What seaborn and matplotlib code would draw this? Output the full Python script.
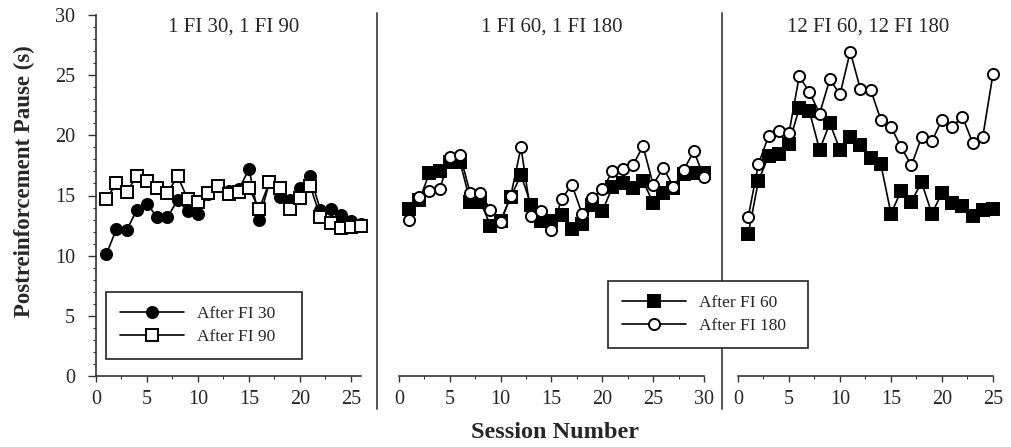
import numpy as np
import pandas as pd
import matplotlib
matplotlib.use("Agg")
import matplotlib.pyplot as plt
from matplotlib.lines import Line2D
import seaborn as sns

# ---------------- data ----------------
sessions_a = list(range(1, 27))
after_fi30 = [10.1, 12.2, 12.1, 13.8, 14.3, 13.2, 13.2, 14.6, 13.7, 13.5, 15.1, 15.8, 15.4,
              15.5, 17.2, 13.0, 16.1, 14.9, 14.6, 15.6, 16.6, 13.8, 13.9, 13.4, 12.9, 12.6]
after_fi90 = [14.7, 16.0, 15.3, 16.6, 16.2, 15.6, 15.2, 16.6, 14.7, 14.5, 15.2, 15.8, 15.1,
              15.3, 15.6, 13.9, 16.1, 15.6, 13.9, 14.8, 15.8, 13.2, 12.7, 12.3, 12.4, 12.5]

sessions_b = list(range(1, 31))
after_fi60_b = [13.9, 14.6, 16.9, 17.0, 17.8, 17.8, 14.5, 14.5, 12.5, 12.9, 14.9, 16.7, 14.2, 12.9, 12.9,
                13.4, 12.2, 12.6, 14.2, 13.7, 15.7, 16.0, 15.6, 16.2, 14.4, 15.2, 15.6, 16.8, 16.9, 16.9]
after_fi180_b = [13.0, 14.9, 15.4, 15.5, 18.2, 18.4, 15.2, 15.2, 13.8, 12.8, 15.0, 19.0, 13.3, 13.7, 12.1,
                 14.7, 15.9, 13.5, 14.8, 15.5, 17.0, 17.2, 17.5, 19.1, 15.9, 17.3, 15.7, 17.1, 18.7, 16.5]

sessions_c = list(range(1, 26))
after_fi60_c = [11.8, 16.2, 18.3, 18.45, 19.3, 22.25, 22.0, 18.8, 21.0, 18.8, 19.9, 19.2, 18.1,
                17.6, 13.5, 15.4, 14.5, 16.1, 13.5, 15.2, 14.4, 14.1, 13.3, 13.8, 13.9]
after_fi180_c = [13.2, 17.6, 19.95, 20.4, 20.2, 24.9, 23.6, 21.8, 24.65, 23.4, 26.95, 23.85, 23.8,
                 21.3, 20.7, 19.0, 17.5, 19.85, 19.5, 21.3, 20.7, 21.55, 19.4, 19.9, 25.1]

panel_titles = ["1 FI 30, 1 FI 90", "1 FI 60, 1 FI 180", "12 FI 60, 12 FI 180"]
legend_a = ["After FI 30", "After FI 90"]
legend_b = ["After FI 60", "After FI 180"]
y_label = "Postreinforcement Pause (s)"
x_label = "Session Number"

# ---------------- style ----------------
sns.set_style("ticks")
plt.rcParams['font.family'] = ['Liberation Serif', 'DejaVu Serif']
plt.rcParams['axes.edgecolor'] = '#333333'
plt.rcParams['axes.linewidth'] = 1.2

W, H = 1012, 447
fig = plt.figure(figsize=(W / 100, H / 100), dpi=100)

def px_axes(left, right, top=15, bottom=376):
    return fig.add_axes([left / W, 1 - bottom / H, (right - left) / W, (bottom - top) / H])

ax1 = px_axes(96, 96 + 26 * 10.2)
ax2 = px_axes(399, 704)
ax3 = px_axes(738, 993)

line_kw = dict(color='black', linewidth=1.2, markersize=8, markeredgewidth=1.4,
               markeredgecolor='black')

def draw(ax, x, y, marker, filled, zorder):
    df = pd.DataFrame({'session': x, 'pause': y})
    sns.lineplot(data=df, x='session', y='pause', ax=ax, marker=marker,
                 markerfacecolor='black' if filled else 'white',
                 legend=False, zorder=zorder, clip_on=False, **line_kw)

draw(ax1, sessions_a, after_fi30, 'o', True, 3)
draw(ax1, sessions_a, after_fi90, 's', False, 4)
draw(ax2, sessions_b, after_fi60_b, 's', True, 3)
draw(ax2, sessions_b, after_fi180_b, 'o', False, 4)
draw(ax3, sessions_c, after_fi60_c, 's', True, 3)
draw(ax3, sessions_c, after_fi180_c, 'o', False, 4)

for ax, xmax, title, tx in [(ax1, 26, panel_titles[0], 0.52),
                            (ax2, 30, panel_titles[1], 0.5),
                            (ax3, 25, panel_titles[2], 0.51)]:
    ax.set_xlim(0, xmax)
    ax.set_ylim(0, 30)
    ax.set_xticks(np.arange(0, xmax + 0.1, 5))
    ax.set_xticks(np.arange(0, xmax + 0.1, 2.5), minor=True)
    ax.tick_params(axis='x', which='major', direction='out', length=4, width=1,
                   labelsize=14.5, pad=6, color='#333333')
    ax.tick_params(axis='x', which='minor', direction='out', length=2, width=0.8, color='#333333')
    ax.set_xlabel('')
    ax.set_ylabel('')
    ax.text(tx, 0.992, title, transform=ax.transAxes, ha='center', va='top', fontsize=15)
    for s in ['top', 'right']:
        ax.spines[s].set_visible(False)
    ax.patch.set_alpha(0)

ax1.set_yticks(np.arange(0, 31, 5))
ax1.set_yticks(np.arange(0, 31, 1), minor=True)
ax1.tick_params(axis='y', which='major', direction='out', length=6, width=1, labelsize=14.5, pad=9,
                color='#333333')
ax1.tick_params(axis='y', which='minor', direction='out', length=2.5, width=0.8, color='#333333')
for ax in (ax2, ax3):
    ax.spines['left'].set_visible(False)
    ax.set_yticks([])

# separator lines
for xs in (377, 722):
    fig.add_artist(Line2D([xs / W, xs / W], [1 - 13 / H, 1 - 409 / H], transform=fig.transFigure,
                          color='#555555', linewidth=1.4, zorder=1))

fig.text(24 / W, 1 - 181 / H, y_label, rotation=90, ha='center', va='center',
         fontsize=16.5, fontweight='bold')
fig.text(555 / W, 1 - 432 / H, x_label, ha='center', va='center', fontsize=17.5, fontweight='bold')

# legends
def handle(marker, filled):
    return Line2D([], [], marker=marker, markerfacecolor='black' if filled else 'white', **line_kw)

leg_kw = dict(loc='upper left', mode='expand', bbox_transform=fig.transFigure, borderaxespad=0,
              frameon=True, fancybox=False, shadow=False, fontsize=12.5, handlelength=3.7,
              handletextpad=0.75, borderpad=0.8, labelspacing=0.38, numpoints=1)

lg1 = fig.legend([handle('o', True), handle('s', False)], legend_a,
                 bbox_to_anchor=(106 / W, 1 - 361 / H, 196 / W, 69 / H), **leg_kw)
lg2 = fig.legend([handle('s', True), handle('o', False)], legend_b,
                 bbox_to_anchor=(608 / W, 1 - 355 / H, 200 / W, 74 / H), **leg_kw)
for lg in (lg1, lg2):
    fr = lg.get_frame()
    fr.set_edgecolor('#222222')
    fr.set_linewidth(1.2)
    fr.set_facecolor('white')
    fr.set_alpha(1)
    lg.set_zorder(10)

fig.savefig('out.png', dpi=100)
